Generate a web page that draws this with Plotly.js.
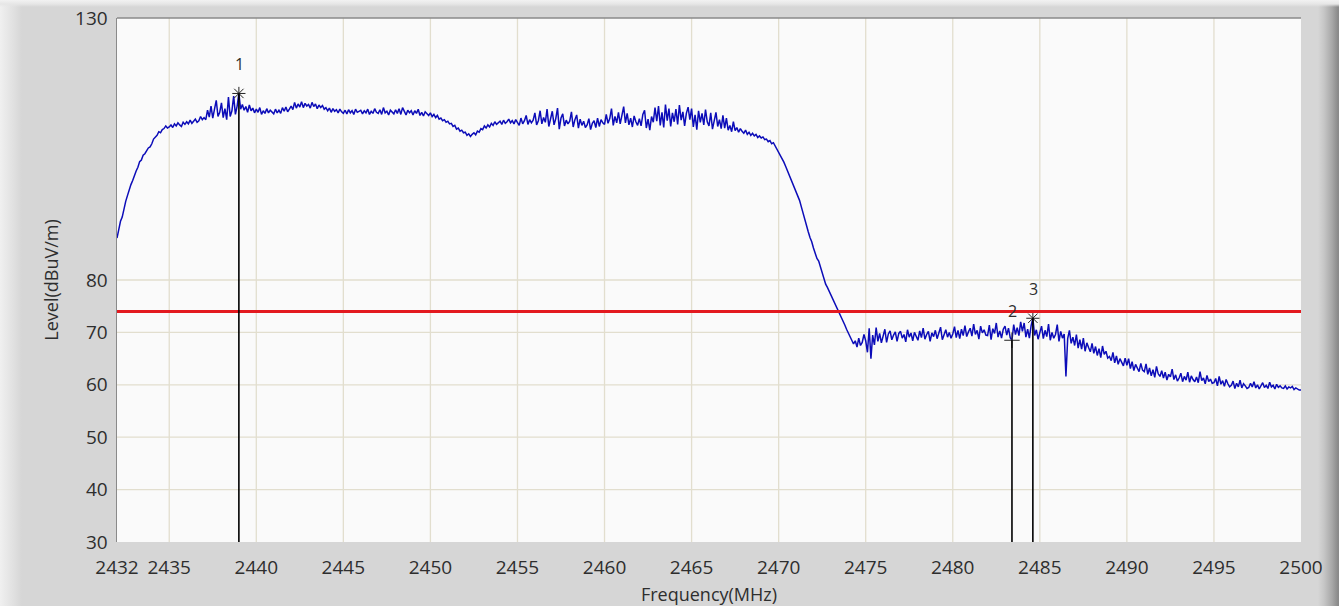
<!DOCTYPE html>
<html>
<head>
<meta charset="utf-8">
<script src="https://cdn.plot.ly/plotly-3.0.1.min.js"></script>
<style>
  html, body { margin: 0; padding: 0; }
  body {
    width: 1339px; height: 606px; overflow: hidden;
    background:
      linear-gradient(to bottom, #f2f2f2 0px, #e6e6e6 4px, rgba(214,214,214,0) 7px),
      linear-gradient(to right, #f0f0f0 0px, #e2e2e2 12px, #d6d6d6 22px, #d6d6d6 1318px, #c6c6c6 1324px, #a8a8a8 1332px, #8a8a8a 1338px);
  }
  #chart { width: 1339px; height: 606px; }
</style>
</head>
<body>
<div id="chart"></div>
<script>
// Sweep: start frequency and step (MHz); one row per MHz (10 points each)
const freqStart = 2432;
const freqStep = 0.1;
const levels = [
  88.0, 89.6, 91.2, 92.0, 93.6, 95.0, 96.1, 97.4, 98.2, 99.0,           // 2432
  100.1, 100.8, 101.5, 102.6, 102.9, 103.8, 104.1, 104.6, 105.2, 105.4, // 2433
  106.0, 106.9, 107.3, 107.6, 108.3, 108.1, 108.7, 108.9, 109.4, 109.0, // 2434
  109.2, 109.6, 109.1, 109.8, 109.4, 110.0, 109.6, 109.3, 110.1, 109.7, // 2435
  110.2, 109.8, 110.5, 109.9, 110.3, 110.7, 110.1, 110.4, 111.2, 110.6, // 2436
  111.0, 110.6, 112.4, 111.1, 113.2, 110.9, 112.6, 114.3, 111.2, 112.0, // 2437
  113.8, 111.0, 112.7, 110.6, 114.9, 111.2, 112.3, 115.1, 111.6, 113.2, // 2438
  115.6, 112.6, 113.5, 112.4, 113.1, 112.0, 113.4, 112.3, 112.8, 111.9, // 2439
  112.6, 112.0, 112.9, 111.6, 112.3, 111.8, 112.7, 111.9, 112.4, 112.1, // 2440
  111.7, 112.6, 111.9, 112.4, 111.8, 112.9, 112.2, 113.0, 112.1, 112.6, // 2441
  113.2, 112.5, 113.9, 112.8, 113.6, 113.0, 114.0, 112.9, 113.7, 113.2, // 2442
  113.5, 112.8, 113.9, 113.1, 113.6, 112.7, 113.4, 112.9, 113.3, 112.6, // 2443
  112.9, 112.3, 112.8, 112.0, 112.7, 112.2, 112.5, 111.9, 112.6, 112.1, // 2444
  111.8, 112.4, 111.7, 112.5, 111.9, 112.3, 111.6, 112.6, 112.0, 112.2, // 2445
  112.4, 111.7, 112.3, 111.9, 112.6, 111.6, 112.2, 111.8, 112.7, 112.0, // 2446
  111.8, 112.5, 111.6, 112.9, 111.9, 112.2, 111.5, 112.4, 112.0, 111.7, // 2447
  112.5, 111.8, 112.7, 111.6, 112.9, 112.0, 111.5, 112.4, 111.9, 112.3, // 2448
  111.5, 112.3, 111.8, 112.6, 111.4, 112.0, 111.3, 112.1, 111.7, 111.4, // 2449
  111.9, 111.2, 111.6, 111.0, 111.4, 110.7, 110.9, 110.4, 110.6, 110.1, // 2450
  110.3, 109.8, 109.9, 109.3, 109.5, 108.8, 109.0, 108.4, 108.6, 108.1, // 2451
  108.2, 107.6, 107.9, 107.4, 107.8, 108.1, 107.7, 108.4, 108.2, 108.9, // 2452
  108.7, 109.4, 109.0, 109.6, 109.2, 109.9, 109.5, 110.2, 109.7, 110.0, // 2453
  110.3, 109.7, 110.5, 109.9, 110.2, 110.7, 110.0, 110.4, 109.8, 110.6, // 2454
  110.1, 109.5, 110.9, 109.8, 110.4, 111.4, 109.7, 110.6, 110.0, 110.5, // 2455
  111.9, 109.6, 110.4, 112.3, 109.8, 111.0, 110.1, 112.6, 109.3, 111.1, // 2456
  112.2, 109.6, 110.8, 112.8, 108.8, 110.9, 111.7, 109.4, 110.5, 109.8, // 2457
  110.3, 112.1, 109.2, 110.6, 111.5, 109.0, 110.7, 109.5, 110.3, 109.1, // 2458
  109.6, 110.8, 108.7, 109.9, 110.4, 109.1, 110.9, 109.3, 110.6, 110.0, // 2459
  109.7, 111.6, 109.9, 110.8, 112.7, 109.5, 111.2, 110.0, 112.0, 109.8, // 2460
  111.5, 113.1, 110.0, 111.8, 109.6, 110.9, 109.2, 111.3, 110.2, 109.5, // 2461
  110.8, 109.4, 111.6, 112.4, 109.0, 110.7, 108.6, 111.2, 110.1, 112.9, // 2462
  110.3, 113.2, 109.5, 112.0, 109.1, 113.5, 110.4, 112.7, 109.3, 111.9, // 2463
  110.2, 112.6, 109.7, 113.4, 110.5, 112.1, 109.4, 111.8, 113.0, 110.6, // 2464
  112.7, 109.2, 111.5, 108.7, 112.3, 110.1, 111.8, 109.6, 112.5, 110.2, // 2465
  109.4, 111.9, 108.8, 110.7, 112.0, 109.3, 110.6, 108.9, 111.4, 109.0, // 2466
  110.9, 108.6, 109.5, 108.3, 110.2, 108.5, 109.1, 108.2, 108.9, 108.4, // 2467
  108.0, 108.6, 107.8, 108.2, 107.6, 108.0, 107.5, 107.8, 107.2, 107.5, // 2468
  107.1, 107.3, 106.8, 106.9, 106.4, 106.6, 106.0, 106.2, 105.6, 105.2, // 2469
  104.5, 103.9, 103.3, 102.5, 101.7, 100.9, 100.1, 99.2, 98.5, 97.8,    // 2470
  96.9, 96.2, 95.2, 94.0, 92.7, 91.6, 90.3, 89.2, 88.1, 87.3,           // 2471
  86.1, 85.0, 84.1, 83.6, 82.4, 81.1, 80.3, 79.2, 78.6, 77.9,           // 2472
  77.2, 76.4, 75.9, 75.0, 74.5, 73.6, 73.0, 72.1, 71.4, 70.6,           // 2473
  69.8, 69.0, 68.5, 67.8, 68.4, 67.2, 68.9, 67.5, 68.1, 69.6,           // 2474
  68.4, 66.2, 70.8, 65.0, 69.5, 67.6, 70.9, 68.3, 69.8, 68.0,           // 2475
  69.2, 70.6, 68.1, 69.7, 70.3, 68.6, 69.5, 70.1, 68.3, 69.8,           // 2476
  70.2, 68.9, 69.6, 68.2, 70.5, 69.1, 69.9, 68.4, 70.0, 69.3,           // 2477
  68.5, 70.3, 69.0, 70.8, 68.7, 69.6, 70.2, 68.3, 69.9, 69.2,           // 2478
  70.4, 68.8, 69.7, 71.0, 68.6, 69.8, 70.5, 69.1, 70.0, 68.9,           // 2479
  69.7, 71.1, 69.0, 70.4, 68.8, 70.6, 69.4, 71.3, 69.2, 70.1,           // 2480
  70.8, 69.3, 71.6, 69.6, 70.4, 68.7, 71.2, 69.9, 70.5, 69.5,           // 2481
  69.4, 71.4, 68.6, 70.7, 69.8, 71.8, 69.1, 70.3, 68.9, 70.6,           // 2482
  71.2, 69.5, 70.8, 69.0, 68.5, 71.5, 69.6, 70.9, 69.4, 72.0,           // 2483
  70.2, 71.8, 69.1, 70.6, 68.9, 71.3, 72.7, 69.4, 70.5, 68.7,           // 2484
  70.1, 71.2, 68.8, 70.4, 69.2, 71.6, 68.5, 70.0, 68.9, 69.6,           // 2485
  71.5, 68.3, 70.2, 68.9, 69.7, 61.6, 68.8, 70.4, 67.9, 69.1,           // 2486
  67.5, 69.6, 67.0, 68.6, 66.8, 68.9, 66.4, 68.0, 67.1, 66.3,           // 2487
  67.9, 66.0, 67.3, 65.6, 66.9, 65.2, 67.4, 65.8, 66.4, 65.1,           // 2488
  65.4, 64.6, 66.2, 64.2, 65.5, 63.9, 65.0, 64.3, 63.6, 65.1,           // 2489
  63.7, 65.0, 63.1, 64.4, 62.7, 63.9, 63.2, 62.5, 64.1, 62.8,           // 2490
  62.5, 64.0, 62.0, 63.2, 61.7, 62.9, 61.4, 63.5, 62.1, 61.6,           // 2491
  62.7, 61.3, 62.4, 60.9, 62.0, 61.5, 63.0, 61.0, 61.9, 60.7,           // 2492
  61.3, 62.2, 60.6, 61.6, 60.9, 62.4, 60.5, 61.7, 61.0, 60.6,           // 2493
  61.5, 60.4, 62.5, 60.8, 61.3, 60.2, 61.8, 60.6, 61.1, 60.3,           // 2494
  60.4, 61.2, 59.8, 61.6, 60.1, 60.8, 59.7, 61.0, 60.2, 59.6,           // 2495
  59.9, 60.7, 59.3, 60.3, 59.6, 60.9, 59.4, 60.2, 59.8, 59.3,           // 2496
  59.5, 60.3, 59.6, 60.6, 59.4, 60.0, 59.2, 59.9, 60.4, 59.5,           // 2497
  59.9, 59.3, 60.5, 59.6, 59.9, 59.2, 60.1, 59.5, 59.8, 59.4,           // 2498
  59.3, 59.8, 59.2, 59.6, 59.4, 59.7, 59.1, 59.4, 59.2, 59.0,           // 2499
  59.0                                                                  // 2500
];
const freqs = levels.map((_, i) => +(freqStart + i * freqStep).toFixed(2));

// Limit line
const limitLevel = 74;

// Markers
const markerLabels = ["1", "2", "3"];
const markerFreqs = [2439.0, 2483.4, 2484.6];
const markerLevels = [115.6, 68.5, 72.7];
const markerSymbols = ["asterisk-open", "cross-thin-open", "asterisk-open"];

// Axis ticks
const xTickVals = [2432, 2435, 2440, 2445, 2450, 2455, 2460, 2465, 2470, 2475, 2480, 2485, 2490, 2495, 2500];
const xGridVals = [2435, 2440, 2445, 2450, 2455, 2460, 2465, 2470, 2475, 2480, 2485, 2490, 2495];
const yTickVals = [30, 40, 50, 60, 70, 80, 130];
const yGridVals = [40, 50, 60, 70, 80];

const gridColor = "#e2dece";
const font = "'Open Sans', 'Noto Sans', sans-serif";
const textColor = "#2e2e2e";

const shapes = [];
xGridVals.forEach(v => shapes.push({type: "line", xref: "x", yref: "paper", x0: v, x1: v, y0: 0, y1: 1,
  line: {color: gridColor, width: 1.3}, layer: "below"}));
yGridVals.forEach(v => shapes.push({type: "line", xref: "paper", yref: "y", x0: 0, x1: 1, y0: v, y1: v,
  line: {color: gridColor, width: 1.3}, layer: "below"}));
// limit line
shapes.push({type: "line", xref: "paper", yref: "y", x0: 0, x1: 1, y0: limitLevel, y1: limitLevel,
  line: {color: "#e3191f", width: 3}});
// marker drop lines
markerFreqs.forEach((f, i) => shapes.push({type: "line", xref: "x", yref: "y", x0: f, x1: f, y0: 30, y1: markerLevels[i],
  line: {color: "#000000", width: 1.6}}));
// top border
shapes.push({type: "line", xref: "paper", yref: "paper", x0: 0, x1: 1, y0: 1, y1: 1,
  line: {color: "#8a8a8a", width: 1.5}});

const annotations = markerLabels.map((t, i) => ({
  x: markerFreqs[i], y: markerLevels[i], xref: "x", yref: "y", text: t, showarrow: false,
  yshift: 29, xshift: 1,
  font: {family: font, size: 16, color: textColor}
}));

const traces = [
  {x: freqs, y: levels, type: "scatter", mode: "lines",
   line: {color: "#0c0cb8", width: 1.5}, hoverinfo: "x+y"},
  {x: markerFreqs, y: markerLevels, type: "scatter", mode: "markers",
   marker: {symbol: markerSymbols, size: 11, color: "#222222", line: {color: "#222222", width: 1}}}
];

const layout = {
  width: 1339, height: 606,
  margin: {l: 117, r: 38, t: 18, b: 64},
  paper_bgcolor: "rgba(0,0,0,0)",
  plot_bgcolor: "#fafafa",
  showlegend: false,
  font: {family: font, size: 19, color: textColor},
  xaxis: {
    range: [2432, 2500], tickvals: xTickVals, ticktext: xTickVals.map(String),
    showgrid: false, zeroline: false, showline: false, ticks: "",
    ticklabelstandoff: 12,
    tickfont: {family: font, size: 19, color: textColor},
    title: {text: "Frequency(MHz)", font: {family: font, size: 18, color: textColor}, standoff: 12}
  },
  yaxis: {
    range: [30, 130], tickvals: yTickVals, ticktext: yTickVals.map(String),
    showgrid: false, zeroline: false, showline: true, linecolor: "#8a8a8a", linewidth: 1.5, ticks: "",
    ticklabelstandoff: 4,
    tickfont: {family: font, size: 19, color: textColor},
    title: {text: "Level(dBuV/m)", font: {family: font, size: 18, color: textColor}, standoff: 12}
  },
  shapes: shapes,
  annotations: annotations
};

Plotly.newPlot("chart", traces, layout, {displayModeBar: false, staticPlot: true});
</script>
</body>
</html>
